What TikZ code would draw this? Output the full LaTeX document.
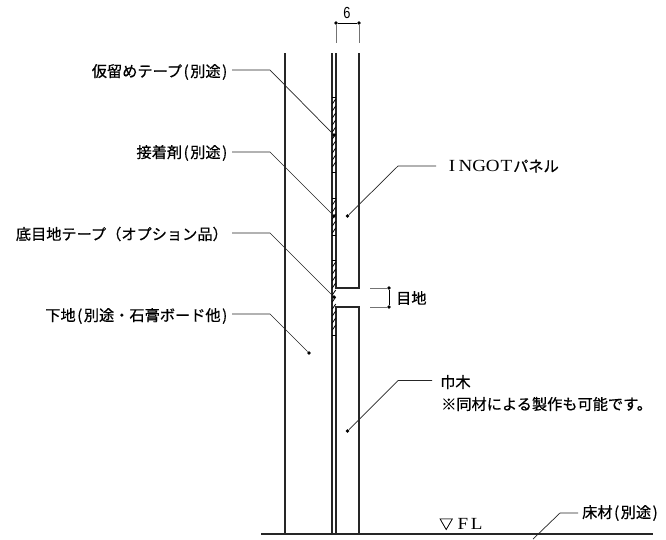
\documentclass[tikz,border=0pt]{standalone}
\usepackage{fontspec}
\setmainfont[FakeBold=0.6]{Noto Sans CJK JP}
\newfontfamily\lat{Liberation Sans}
\newfontfamily\ser[FakeStretch=1.12]{Liberation Serif}
\newcommand{\wl}[1]{\makebox[13.6pt][c]{\ser\fontsize{17}{19}\selectfont #1}}
\newcommand{\lpar}{\kern1.5pt(\kern1.5pt}
\newcommand{\rpar}{\kern1.5pt)\kern1.5pt}
\tikzset{
  wall/.style={line width=1.2pt,black!85},
  leader/.style={line width=0.7pt,black!85},
  ext/.style={line width=0.9pt,black!55},
  lbl/.style={font=\fontsize{15.2}{17}\selectfont,inner sep=0pt,text=black},
  pt/.style={circle,fill=black,inner sep=0pt,minimum size=3.6pt},
}
\begin{document}
\begin{tikzpicture}[x=1pt,y=-1pt]
\useasboundingbox (0,0) rectangle (666,539);
\fill[white] (0,0) rectangle (666,539);
% coordinates
\coordinate (wt) at (285,53); \coordinate (wb) at (285,534);
\coordinate (gt) at (332,53); \coordinate (gb) at (332,534);
\coordinate (pt) at (336,53); \coordinate (pj) at (336,288); \coordinate (pk) at (336,307); \coordinate (pb) at (336,534);
\coordinate (qt) at (359,53); \coordinate (qj) at (359,288); \coordinate (qk) at (359,307); \coordinate (qb) at (359,534);
\coordinate (fl) at (261,534); \coordinate (fr) at (653,534);
% walls
\draw[wall] (wt)--(wb);
\draw[wall] (gt)--(gb);
\draw[wall] (pt)--(pj)--(qj)--(qt);
\draw[wall] (pb)--(pk)--(qk)--(qb);
\draw[wall] (fl)--(fr);
% hatching
\foreach \a/\b in {97/172,198/235,260/335}{
  \draw[line width=1pt] (332,\a)--(336,\a) (332,\b)--(336,\b);
  \pgfmathsetmacro{\n}{int((\b-\a)/7)}
  \foreach \i in {1,...,\n}{
    \draw[line width=0.8pt,black] (332.3,\a+\i*7)--(335.7,\a+\i*7-5);
  }
}
% dimension
\node[pt] (d1) at (336,23) {}; \node[pt] (d2) at (359,23) {};
\coordinate (d1e) at (336,43); \coordinate (d2e) at (359,43);
\draw[line width=0.8pt] (d1)--(d2);
\draw[ext] (d1)--(d1e); \draw[ext] (d2)--(d2e);
\node[lbl,font=\lat\fontsize{16}{18}\selectfont,xscale=.8] (six) at (347,13) {6};
% joint dim
\node[pt] (j1) at (389,288) {}; \node[pt] (j2) at (389,307) {};
\coordinate (j1e) at (370,288); \coordinate (j2e) at (370,307);
\draw[line width=0.8pt] (j1)--(j2);
\draw[ext] (j1)--(j1e); \draw[ext] (j2)--(j2e);
\node[lbl,anchor=west] (meji) at (396,298) {目地};
% left labels
\node[lbl,anchor=east] (a) at (229,72) {仮留めテープ\lpar 別途\rpar};
\node[lbl,anchor=east] (b) at (229,153) {接着剤\lpar 別途\rpar};
\node[lbl,anchor=east] (c) at (228,234) {底目地テープ（オプション品）};
\node[lbl,anchor=east] (e) at (229,316) {下地\lpar 別途・石膏ボード他\rpar};
\node[pt] (a1) at (334,135) {};
\node[pt] (b1) at (334,216) {};
\node[pt] (c1) at (334,297) {};
\node[pt] (e1) at (309,353) {};
\coordinate (a0) at (232,70); \coordinate (a2) at (270,70);
\coordinate (b0) at (232,152); \coordinate (b2) at (270,152);
\coordinate (c0) at (232,233); \coordinate (c2) at (270,233);
\coordinate (e0) at (232,314); \coordinate (e2) at (270,314);
\draw[leader] (a0)--(a2)--(a1);
\draw[leader] (b0)--(b2)--(b1);
\draw[leader] (c0)--(c2)--(c1);
\draw[leader] (e0)--(e2)--(e1);
% right labels
\node[pt] (i1) at (347.5,216) {};
\coordinate (i2) at (398,166); \coordinate (i0) at (436,166);
\draw[leader] (i1)--(i2)--(i0);
\node[lbl,anchor=west] (ingot) at (445,166) {\wl{I}\wl{N}\wl{G}\wl{O}\wl{T}パネル};
\node[pt] (h1) at (347.5,431) {};
\coordinate (h2) at (398,380.5); \coordinate (h0) at (432,380.5);
\draw[leader] (h1)--(h2)--(h0);
\node[lbl,anchor=west] (haba) at (440,382) {巾木};
\node[lbl,anchor=west] (note) at (441,404) {※同材による製作も可能です。};
\coordinate (k1) at (533,539); \coordinate (k2) at (560,513); \coordinate (k0) at (578,513);
\draw[leader] (k1)--(k2)--(k0);
\node[lbl,anchor=west] (yuka) at (582,513) {床材\lpar 別途\rpar};
\node[lbl,anchor=west] (fll) at (439,524) {{\fontsize{14}{16}\selectfont ▽}\kern3pt\wl{F}\wl{L}};
\end{tikzpicture}
\end{document}
